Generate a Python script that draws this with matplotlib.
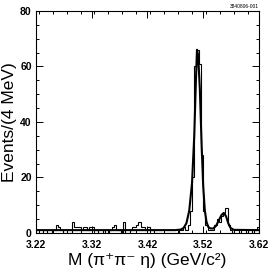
import numpy as np
import matplotlib
matplotlib.use('Agg')
import matplotlib.pyplot as plt
from matplotlib.ticker import MultipleLocator

plt.rcParams['font.family'] = ['Liberation Sans', 'DejaVu Sans']

# histogram: 100 bins of 4 MeV from 3.22 to 3.62
bin_edges = np.round(np.arange(3.22, 3.6201, 0.004), 4)
counts = [
    0, 0, 0, 1, 1, 0, 0, 1, 1, 3,
    2, 1, 0, 0, 0, 0, 4, 2, 2, 2,
    1, 2, 2, 1, 2, 2, 1, 1, 0, 0,
    1, 0, 0, 1, 2, 3, 1, 1, 0, 4,
    0, 0, 1, 2, 2, 3, 4, 2, 2, 1,
    2, 1, 1, 0, 0, 0, 0, 0, 0, 0,
    0, 0, 0, 0, 1, 1, 2, 1, 3, 8,
    20, 60, 66, 61, 28, 8, 3, 1, 1, 1,
    3, 5, 4, 6, 7, 9, 3, 1, 0, 1,
    1, 0, 1, 1, 0, 1, 1, 0, 1, 2,
]

# fit curve, points
fit_x = [3.22, 3.47, 3.48, 3.485, 3.49, 3.495, 3.50, 3.504, 3.507, 3.509,
         3.511, 3.514, 3.517, 3.520, 3.523, 3.526, 3.529, 3.533, 3.538,
         3.543, 3.548, 3.553, 3.557, 3.561, 3.565, 3.569, 3.575, 3.62]
fit_y = [1.0, 1.0, 1.2, 1.8, 3.5, 8, 18, 35, 55, 66,
         64, 52, 33, 17, 8, 4, 2.2, 1.6, 1.6,
         2.5, 4.5, 6.5, 7.2, 6, 3.5, 1.8, 1.1, 1.0]

fig = plt.figure(figsize=(2.74, 2.74), dpi=100)
ax = fig.add_axes([0.131, 0.150, 0.814, 0.810])

ax.stairs(counts, bin_edges, color='black', linewidth=0.8)
ax.plot(fit_x, fit_y, color='black', linewidth=1.5)

ax.set_xlim(3.22, 3.62)
ax.set_ylim(0, 80)
ax.set_xticks([3.22, 3.32, 3.42, 3.52, 3.62])
ax.set_xticklabels(['3.22', '3.32', '3.42', '3.52', '3.62'])
ax.xaxis.set_minor_locator(MultipleLocator(0.025))
ax.set_yticks([0, 20, 40, 60, 80])
ax.yaxis.set_minor_locator(MultipleLocator(5))
ax.tick_params(which='both', direction='in', top=True, right=True, width=0.7)
ax.tick_params(which='major', length=5, labelsize=7.5)
ax.tick_params(axis='x', which='major', pad=5)
ax.tick_params(axis='y', which='major', pad=3)
for lab in ax.get_xticklabels() + ax.get_yticklabels():
    lab.set_fontweight('bold')
for sp in ax.spines.values():
    sp.set_linewidth(0.8)

ax.set_xlabel('M (\u03c0\u207a\u03c0\u207b \u03b7) (GeV/c\u00b2)', fontsize=12.5, labelpad=2)
ax.set_ylabel('Events/(4 MeV)', fontsize=12.5, labelpad=2)

fig.text(0.945, 0.975, '3840806-001', fontsize=3.5, ha='right', va='center')

fig.savefig('out.png', dpi=100)
